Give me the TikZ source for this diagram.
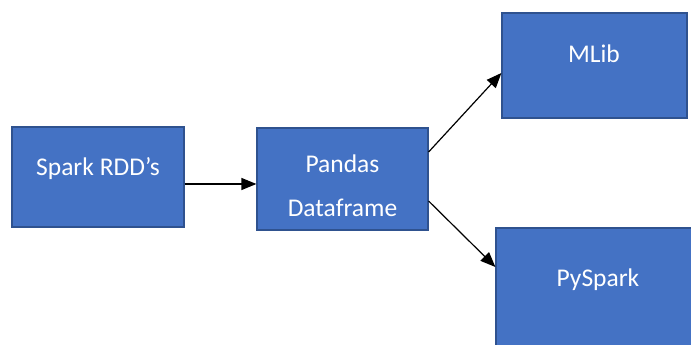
\documentclass[tikz,border=0pt]{standalone}
\usepackage{fontspec}
\setmainfont{Carlito}
\usetikzlibrary{arrows.meta}
\definecolor{boxfill}{HTML}{4472C4}
\definecolor{boxline}{HTML}{2F528F}
\begin{document}
\begin{tikzpicture}[x=1pt,y=1pt,
  box/.style={draw=boxline,fill=boxfill,line width=1.2pt,inner sep=0pt,minimum width=0pt},
  lbl/.style={text=white,font=\fontsize{25.5}{28}\selectfont,anchor=base,inner sep=0pt},
  arr/.style={-{Triangle[length=15pt,width=12pt]},line width=1.2pt,black}]
\useasboundingbox (0,0) rectangle (691,345);
\fill[white] (0,0) rectangle (691,345);
\node[box,minimum width=172pt,minimum height=100pt] (b1) at (98,168) {};
\node[box,minimum width=171pt,minimum height=102pt] (b2) at (342.5,166) {};
\node[box,minimum width=185pt,minimum height=105pt] (b3) at (594.5,279.5) {};
\node[box,minimum width=210pt,minimum height=140pt] (b4) at (601,47) {};
\node[lbl] (t1) at (98,169) {Spark RDD’s};
\node[lbl] (t2) at (342.5,172) {Pandas};
\node[lbl] (t3) at (342.5,128) {Dataframe};
\node[lbl] (t4) at (594,282) {MLib};
\node[lbl] (t5) at (598,58) {PySpark};
\coordinate (a1) at (b1.east |- 0,161);
\coordinate (a2) at (b2.west |- 0,161);
\coordinate (c1) at (b2.east |- 0,193);
\coordinate (c2) at (b3.west |- 0,272);
\coordinate (d1) at (b2.east |- 0,144);
\coordinate (d2) at (b4.west |- 0,78);
\draw[arr] (a1) -- (a2);
\draw[arr] (c1) -- (c2);
\draw[arr] (d1) -- (d2);
\end{tikzpicture}
\end{document}
